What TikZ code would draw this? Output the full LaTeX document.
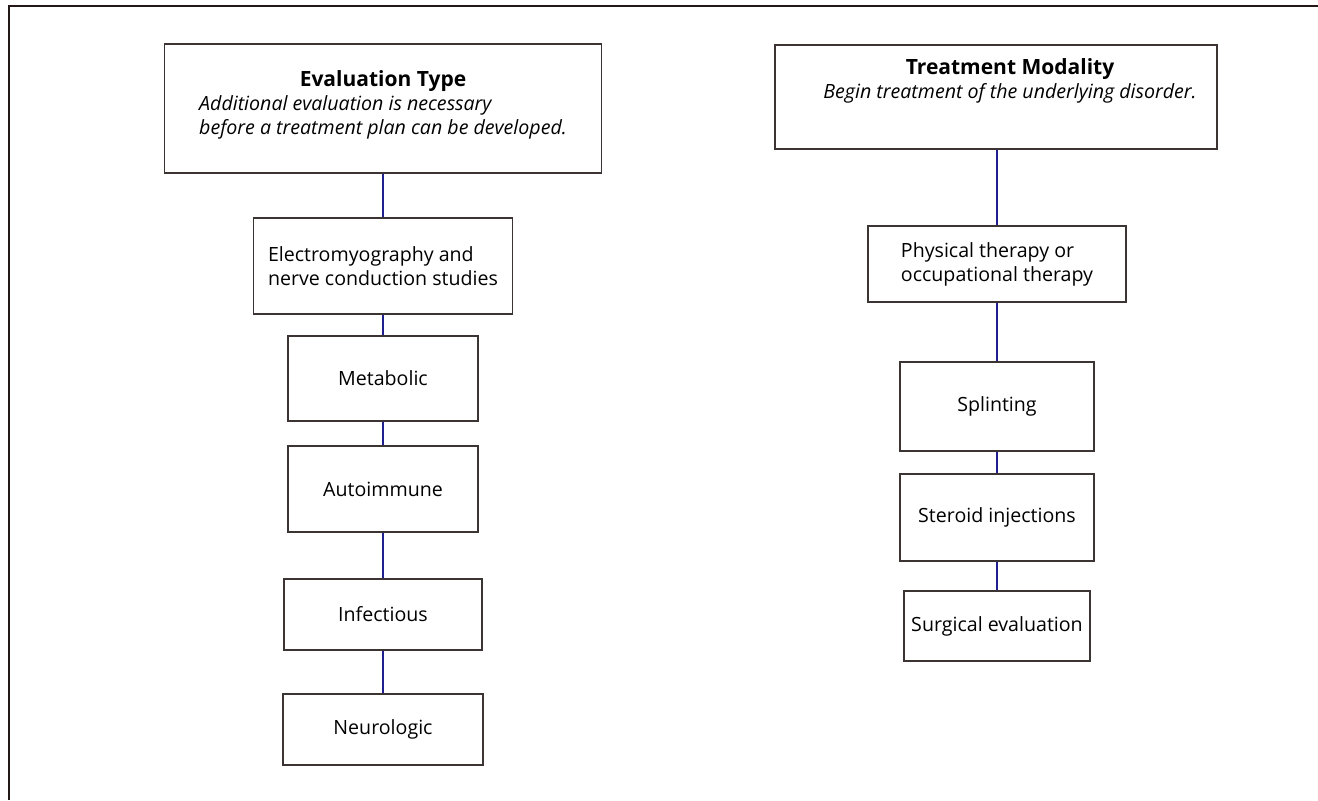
\documentclass[tikz,border=0pt]{standalone}
\usepackage{fontspec}
\setmainfont{Open Sans}
\usepackage{tikz}

\definecolor{boxline}{HTML}{3B3433}
\definecolor{linkblue}{HTML}{1F1F8F}
\definecolor{frameline}{HTML}{231815}

\begin{document}
\begin{tikzpicture}[x=0.5pt,y=-0.5pt,
        box/.style={shape=rectangle,draw=boxline,line width=0.7pt,inner sep=0pt,font=\fontsize{9.8}{12}\selectfont},
        link/.style={draw=linkblue,line width=0.8pt}]
        \useasboundingbox (0,0) rectangle (1318,800);
        \draw[frameline,line width=1.1pt] (9,800) -- (9,6) -- (1318,6);
        % evaluation column
        \node[box,minimum width=218.5pt,minimum height=64.5pt] (EvalTop) at (383,108.5) {\raisebox{-1pt}[0pt][0pt]{\begin{tabular}{@{}l@{}}\multicolumn{1}{@{}c@{}}{\fontsize{10.5}{12}\selectfont\textbf{Evaluation Type}}\\ \textit{Additional evaluation is necessary}\\ \textit{before a treatment plan can be developed.}\end{tabular}}};
        \node[box,minimum width=129.5pt,minimum height=48pt,align=left] (EMG) at (383,266) {Electromyography and\\nerve conduction studies};
        \node[box,minimum width=95pt,minimum height=42.5pt] (Meta) at (383,378.5) {Metabolic};
        \node[box,minimum width=95pt,minimum height=43pt] (Auto) at (383,489) {Autoimmune};
        \node[box,minimum width=99pt,minimum height=35.5pt] (Infe) at (383,614.5) {Infectious};
        \node[box,minimum width=100pt,minimum height=35.5pt] (Neur) at (383,729.5) {Neurologic};
        % treatment column
        \node[box,minimum width=221pt,minimum height=52pt] (TreatTop) at (996,97) {\hspace{14pt}\raisebox{5pt}[0pt][0pt]{\begin{tabular}{@{}c@{}}\fontsize{10.5}{12}\selectfont\textbf{Treatment Modality}\\ \textit{Begin treatment of the underlying disorder.}\end{tabular}}};
        \node[box,minimum width=129pt,minimum height=38pt,align=left] (Phys) at (997,264) {Physical therapy or\\occupational therapy};
        \node[box,minimum width=97pt,minimum height=44.5pt] (Splint) at (997,406.5) {Splinting};
        \node[box,minimum width=97pt,minimum height=43.5pt] (Ster) at (997,517.5) {Steroid injections};
        \node[box,minimum width=93pt,minimum height=35pt] (Surg) at (997,626) {Surgical evaluation};
        \path [link] (EvalTop) edge (EMG);
        \path [link] (EMG) edge (Meta);
        \path [link] (Meta) edge (Auto);
        \path [link] (Auto) edge (Infe);
        \path [link] (Infe) edge (Neur);
        \path [link] (TreatTop.south -| Phys) edge (Phys);
        \path [link] (Phys) edge (Splint);
        \path [link] (Splint) edge (Ster);
        \path [link] (Ster) edge (Surg);
\end{tikzpicture}
\end{document}
